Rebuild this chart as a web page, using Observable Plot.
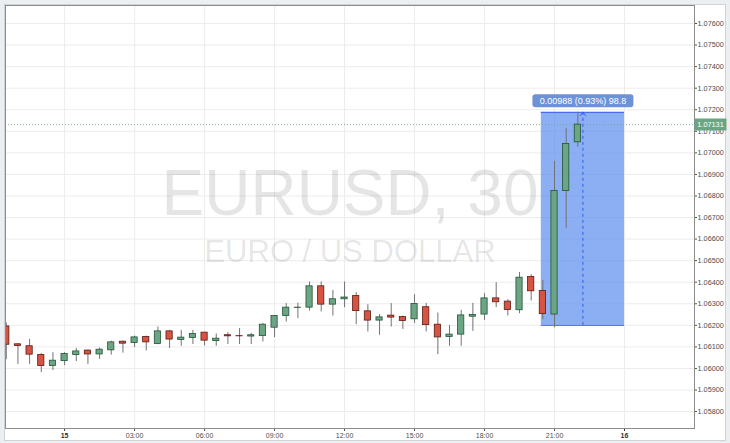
<!DOCTYPE html>
<html><head><meta charset="utf-8">
<script src="https://cdn.jsdelivr.net/npm/d3@7"></script>
<script src="https://cdn.jsdelivr.net/npm/@observablehq/plot@0.6"></script>
<style>
body{margin:0;background:#eceff2;font-family:"Liberation Sans",Arial,sans-serif}
#wrap{position:relative;width:730px;height:443px;background:#eceff2;overflow:hidden}
#panel{position:absolute;left:4px;top:4px;width:722px;height:437px;background:#fff;box-sizing:border-box;border:1px solid #cfd3d8}
#chart{position:absolute;left:0;top:0}
</style></head><body>
<div id="wrap"><div id="panel"></div><div id="chart"></div></div>
<script>
// 30-minute candles (UTC)
const times = [
 "2016-11-14T21:30","2016-11-14T22:00","2016-11-14T22:30","2016-11-14T23:00","2016-11-14T23:30",
 "2016-11-15T00:00","2016-11-15T00:30","2016-11-15T01:00","2016-11-15T01:30","2016-11-15T02:00",
 "2016-11-15T02:30","2016-11-15T03:00","2016-11-15T03:30","2016-11-15T04:00","2016-11-15T04:30",
 "2016-11-15T05:00","2016-11-15T05:30","2016-11-15T06:00","2016-11-15T06:30","2016-11-15T07:00",
 "2016-11-15T07:30","2016-11-15T08:00","2016-11-15T08:30","2016-11-15T09:00","2016-11-15T09:30",
 "2016-11-15T10:00","2016-11-15T10:30","2016-11-15T11:00","2016-11-15T11:30","2016-11-15T12:00",
 "2016-11-15T12:30","2016-11-15T13:00","2016-11-15T13:30","2016-11-15T14:00","2016-11-15T14:30",
 "2016-11-15T15:00","2016-11-15T15:30","2016-11-15T16:00","2016-11-15T16:30","2016-11-15T17:00",
 "2016-11-15T17:30","2016-11-15T18:00","2016-11-15T18:30","2016-11-15T19:00","2016-11-15T19:30",
 "2016-11-15T20:00","2016-11-15T20:30","2016-11-15T21:00","2016-11-15T21:30","2016-11-15T22:00"
];
const open = [
 1.06195,1.06112,1.06103,1.06062,1.06011, 1.06034,1.06062,1.06083,1.06065,1.06084,
 1.06124,1.06118,1.06146,1.06113,1.06172, 1.06132,1.06141,1.06166,1.06127,1.06154,
 1.06150,1.06148,1.06150,1.06189,1.06243, 1.06281,1.06282,1.06381,1.06296,1.06321,
 1.06336,1.06265,1.06222,1.06245,1.06239, 1.06228,1.06284,1.06203,1.06146,1.06157,
 1.06240,1.06250,1.06325,1.06310,1.06270, 1.06424,1.06359,1.06250,1.06823,1.07049
];
const high = [
 1.06211,1.06115,1.06135,1.06069,1.06073, 1.06073,1.06093,1.06085,1.06095,1.06127,
 1.06127,1.06150,1.06150,1.06192,1.06177, 1.06177,1.06177,1.06168,1.06160,1.06166,
 1.06185,1.06162,1.06208,1.06245,1.06301, 1.06303,1.06401,1.06401,1.06362,1.06401,
 1.06352,1.06296,1.06250,1.06301,1.06243, 1.06342,1.06302,1.06257,1.06200,1.06270,
 1.06302,1.06347,1.06398,1.06319,1.06445, 1.06435,1.06408,1.06961,1.07113,1.07188
];
const low = [
 1.06041,1.06019,1.06019,1.05981,1.05990, 1.06013,1.06032,1.06019,1.06042,1.06062,
 1.06071,1.06097,1.06081,1.06110,1.06093, 1.06103,1.06111,1.06104,1.06103,1.06111,
 1.06111,1.06111,1.06123,1.06143,1.06215, 1.06231,1.06266,1.06262,1.06243,1.06282,
 1.06203,1.06169,1.06154,1.06192,1.06181, 1.06208,1.06169,1.06064,1.06103,1.06103,
 1.06172,1.06223,1.06282,1.06243,1.06254, 1.06313,1.06226,1.06188,1.06648,1.07026
];
const close = [
 1.06110,1.06104,1.06064,1.06011,1.06036, 1.06067,1.06079,1.06065,1.06087,1.06121,
 1.06115,1.06144,1.06121,1.06172,1.06134, 1.06143,1.06160,1.06129,1.06138,1.06149,
 1.06149,1.06154,1.06203,1.06243,1.06282, 1.06282,1.06381,1.06296,1.06321,1.06329,
 1.06266,1.06222,1.06237,1.06236,1.06220, 1.06299,1.06201,1.06144,1.06157,1.06246,
 1.06248,1.06325,1.06307,1.06271,1.06421, 1.06358,1.06252,1.06823,1.07041,1.07131
];
const yTicks = [1.058,1.059,1.060,1.061,1.062,1.063,1.064,1.065,1.066,1.067,1.068,1.069,1.070,1.071,1.072,1.073,1.074,1.075,1.076];
const hourTicks = ["2016-11-15T03:00","2016-11-15T06:00","2016-11-15T09:00","2016-11-15T12:00","2016-11-15T15:00","2016-11-15T18:00","2016-11-15T21:00"];
const dayTicks = ["2016-11-15T00:00","2016-11-16T00:00"];
const xDomain = ["2016-11-14T21:28","2016-11-16T03:00"];
const yDomain = [1.057215, 1.076835];
const watermark = ["EURUSD, 30"];
const watermarkSub = ["EURO / US DOLLAR"];
// price range measurement tool
const measureStart = ["2016-11-15T20:26"];
const measureEnd = ["2016-11-16T00:00"];
const measureLow = [1.06200];
const measureHigh = [1.07188];
const measureLabel = ["0.00988 (0.93%) 98.8"];

const D = s => new Date(s + "Z");
const data = times.map((t, i) => ({t: D(t), o: open[i], h: high[i], l: low[i], c: close[i]}));
const up = d => d.c >= d.o;
const half = 8 * 60e3;
const last = data[data.length - 1];
const m = {x1: D(measureStart[0]), x2: D(measureEnd[0]), y1: measureLow[0], y2: measureHigh[0], label: measureLabel[0]};
m.mid = new Date((+m.x1 + +m.x2) / 2);
const xEnd = D(xDomain[1]);

const rectSym = (w, h, r = 0) => ({draw(ctx) {
  if (!r) { ctx.rect(-w/2, -h/2, w, h); return; }
  const x0 = -w/2, y0 = -h/2, x1 = w/2, y1 = h/2;
  ctx.moveTo(x0 + r, y0); ctx.lineTo(x1 - r, y0); ctx.arcTo(x1, y0, x1, y0 + r, r);
  ctx.lineTo(x1, y1 - r); ctx.arcTo(x1, y1, x1 - r, y1, r); ctx.lineTo(x0 + r, y1);
  ctx.arcTo(x0, y1, x0, y1 - r, r); ctx.lineTo(x0, y0 + r); ctx.arcTo(x0, y0, x0 + r, y0, r); ctx.closePath();
}});
const chevron = {draw(ctx) { ctx.moveTo(-3, 3.5); ctx.lineTo(0, 0); ctx.lineTo(3, 3.5); }};

const font = '"Liberation Sans", Arial, sans-serif';
const chart = Plot.plot({
  width: 730, height: 443,
  marginLeft: 5, marginRight: 36, marginTop: 5, marginBottom: 15,
  x: {type: "utc", domain: xDomain.map(D), label: null},
  y: {domain: yDomain, label: null},
  style: {background: "transparent", fontFamily: font, overflow: "visible"},
  marks: [
    Plot.gridY(yTicks, {stroke: "#ececec", strokeOpacity: 1}),
    Plot.gridX(hourTicks.concat(dayTicks).map(D), {stroke: "#ececec", strokeOpacity: 1}),
    Plot.text(watermark, {frameAnchor: "middle", dy: -22, fontSize: 64, fill: "#000", fillOpacity: 0.1}),
    Plot.text(watermarkSub, {frameAnchor: "middle", dy: 35, fontSize: 31, fill: "#000", fillOpacity: 0.1}),
    Plot.rect([m], {x1: "x1", x2: "x2", y1: "y1", y2: "y2", fill: "#5b8def", fillOpacity: 0.7}),
    Plot.ruleY([m.y1, m.y2], {x1: m.x1, x2: m.x2, stroke: "#3d5cf0", strokeWidth: 1}),
    Plot.ruleY([last.c], {stroke: "#6ba583", strokeOpacity: 0.8, strokeDasharray: "1,2"}),
    Plot.ruleX(data, {x: "t", y1: "l", y2: "h", stroke: "#737375", clip: true}),
    Plot.rect(data, {
      x1: d => new Date(+d.t - half), x2: d => new Date(+d.t + half),
      y1: "o", y2: "c",
      fill: d => up(d) ? "#6ba583" : "#d75442",
      stroke: d => up(d) ? "#225437" : "#5b1a13",
      strokeWidth: 0.8, clip: true
    }),
    Plot.ruleX([m], {x: "mid", y1: "y1", y2: "y2", stroke: "#2a5cf5", strokeDasharray: "3,3"}),
    Plot.dot([m], {x: "mid", y: "y2", symbol: chevron, fill: "none", stroke: "#2a5cf5", strokeWidth: 1}),
    Plot.dot([m], {x: "mid", y: "y2", dy: -11.5, symbol: rectSym(101, 13, 3), fill: "#6d92d6", stroke: null}),
    Plot.text([m], {x: "mid", y: "y2", dy: -11.5, text: "label", fill: "white", fontSize: 9}),
    Plot.axisY(yTicks, {anchor: "right", tickFormat: d => d.toFixed(5), tickSize: 2, tickPadding: 1, fontSize: 7.3, color: "#4d4d4d", label: null}),
    Plot.axisX(hourTicks.map(D), {tickFormat: d3.utcFormat("%H:%M"), tickSize: 3, tickPadding: 2, fontSize: 7, color: "#4d4d4d", label: null}),
    Plot.axisX(dayTicks.map(D), {tickFormat: d => String(d.getUTCDate()), tickSize: 3, tickPadding: 2, fontSize: 7, fontWeight: "bold", color: "#333", label: null}),
    Plot.frame({stroke: "#8c8c8c"}),
    Plot.dot([last], {x: () => xEnd, y: "c", dx: 16, symbol: rectSym(32, 12), fill: "#6ba583", stroke: null}),
    Plot.text([last], {x: () => xEnd, y: "c", dx: 16, text: d => d.c.toFixed(5), textAnchor: "middle", fill: "white", fontSize: 7.3})
  ]
});
document.getElementById("chart").appendChild(chart);
</script>
</body></html>
